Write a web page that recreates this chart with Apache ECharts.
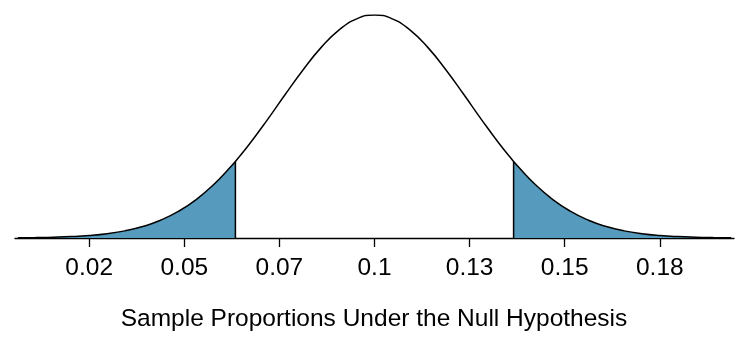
<!DOCTYPE html>
<html>
<head>
<meta charset="utf-8">
<script src="https://cdn.jsdelivr.net/npm/echarts@6/dist/echarts.min.js"></script>
<style>html,body{margin:0;padding:0;background:#fff}#c{width:750px;height:338px}</style>
</head>
<body>
<div id="c"></div>
<script>
// Sample proportion values (x) and relative curve heights (y)
const xs = [0.000,0.005,0.010,0.015,0.020,0.025,0.030,0.035,0.040,0.045,0.050,0.055,0.060,0.061,0.065,0.070,0.075,0.080,0.085,0.090,0.095,
            0.100,
            0.105,0.110,0.115,0.120,0.125,0.130,0.135,0.139,0.140,0.145,0.150,0.155,0.160,0.165,0.170,0.175,0.180,0.185,0.190,0.195,0.200];
const ys = [0.0009,0.0018,0.0034,0.0062,0.0111,0.0192,0.0319,0.0513,0.0796,0.1192,0.1724,0.2408,0.3247,0.3432,0.4226,0.5311,0.6444,0.7548,0.8537,0.9321,0.9826,
            1.0000,
            0.9826,0.9321,0.8537,0.7548,0.6444,0.5311,0.4226,0.3432,0.3247,0.2408,0.1724,0.1192,0.0796,0.0513,0.0319,0.0192,0.0111,0.0062,0.0034,0.0018,0.0009];
const lowerCut = 0.061;
const upperCut = 0.139;
const tickValues = [0.02, 0.04667, 0.07333, 0.1, 0.12667, 0.15333, 0.18];
const tickLabels = ["0.02", "0.05", "0.07", "0.1", "0.13", "0.15", "0.18"];
const axisMin = -0.0008, axisMax = 0.2008;
const xTitle = "Sample Proportions Under the Null Hypothesis";

const curve = xs.map((x, i) => [x, ys[i]]);
const leftTail = curve.filter(p => p[0] <= lowerCut);
const rightTail = curve.filter(p => p[0] >= upperCut);
const yAt = x => ys[xs.indexOf(x)];
const fill = '#569BBD';

const chart = echarts.init(document.getElementById('c'), null, {renderer: 'canvas'});
chart.setOption({
  animation: false,
  grid: {left: 15, right: 16, top: 15, bottom: 100},
  xAxis: {
    type: 'value', min: axisMin, max: axisMax,
    splitLine: {show: false},
    axisLine: {show: true, onZero: false, lineStyle: {color: '#000', width: 1.3}},
    axisTick: {show: true, length: 9, lineStyle: {color: '#000', width: 1.3}, customValues: tickValues},
    axisLabel: {
      customValues: tickValues, margin: 18, color: '#000', fontSize: 24.5,
      fontFamily: 'Liberation Sans',
      formatter: v => {
        let best = 0;
        tickValues.forEach((t, i) => { if (Math.abs(t - v) < Math.abs(tickValues[best] - v)) best = i; });
        return tickLabels[best];
      }
    }
  },
  yAxis: {type: 'value', min: 0, max: 1, show: false, splitLine: {show: false}},
  series: [
    {type: 'line', data: leftTail, smooth: true, symbol: 'none', lineStyle: {width: 0}, areaStyle: {color: fill, opacity: 1}, z: 1},
    {type: 'line', data: rightTail, smooth: true, symbol: 'none', lineStyle: {width: 0}, areaStyle: {color: fill, opacity: 1}, z: 1},
    {type: 'line', data: [[lowerCut, 0], [lowerCut, yAt(lowerCut)]], symbol: 'none', lineStyle: {color: '#000', width: 1.5}, z: 2},
    {type: 'line', data: [[upperCut, 0], [upperCut, yAt(upperCut)]], symbol: 'none', lineStyle: {color: '#000', width: 1.5}, z: 2},
    {type: 'line', data: curve, smooth: true, symbol: 'none', lineStyle: {color: '#000', width: 1.5}, z: 3}
  ],
  graphic: [{
    type: 'text', x: 374, y: 319,
    style: {text: xTitle, fill: '#000', font: '24.5px "Liberation Sans"', align: 'center', verticalAlign: 'middle'}
  }]
});
</script>
</body>
</html>
